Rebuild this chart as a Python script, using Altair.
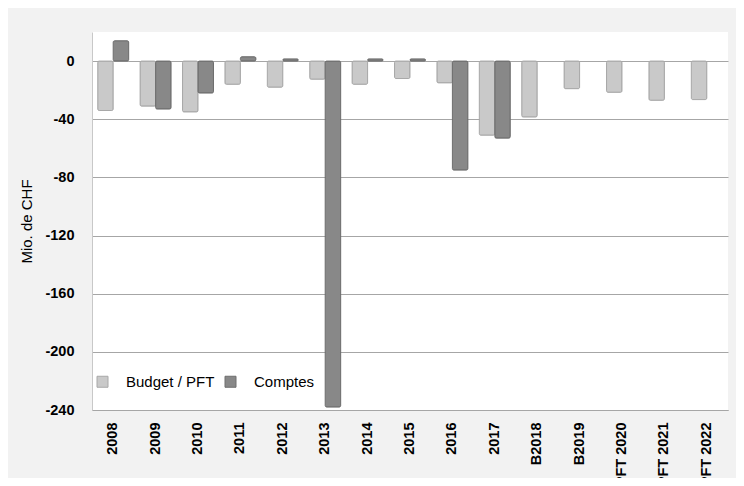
import altair as alt
import pandas as pd

categories = ["2008", "2009", "2010", "2011", "2012", "2013", "2014", "2015",
              "2016", "2017", "B2018", "B2019", "PFT 2020", "PFT 2021", "PFT 2022"]
budget = [-34, -31, -35, -16, -18, -12.5, -16, -12, -15, -51, -38.5, -19, -21.5, -27, -26.5]
comptes = [14, -33, -22, 3, 1.5, -238, 1.5, 1.5, -75, -53]
series = ["Budget / PFT", "Comptes"]
y_ticks = [0, -40, -80, -120, -160, -200, -240]

rows = []
for c, v in zip(categories, budget):
    rows.append({"cat": c, "serie": series[0], "val": v})
for c, v in zip(categories, comptes):
    rows.append({"cat": c, "serie": series[1], "val": v})
df = pd.DataFrame(rows)

FONT = "Liberation Sans"

legend_cfg = dict(title=None, orient="none", legendX=3, legendY=342,
                  direction="horizontal", symbolType="square",
                  symbolSize=121, symbolStrokeWidth=1,
                  labelFont=FONT, labelFontSize=15, labelColor="#000000",
                  labelOffset=16, columnPadding=8, padding=0)

chart = alt.Chart(df).mark_bar(strokeWidth=1, cornerRadius=1.5).encode(
    x=alt.X("cat:N", sort=categories, title=None,
            scale=alt.Scale(paddingInner=0.27, paddingOuter=0.135),
            axis=alt.Axis(labelAngle=270, labelAlign="right", labelBaseline="middle",
                          labelPadding=12, ticks=False, labelFontSize=14.5,
                          labelFontWeight="bold", labelColor="#000000", labelFont=FONT,
                          domainColor="#a6a6a6", grid=False, labelOverlap=False)),
    xOffset=alt.XOffset("serie:N", sort=series),
    y=alt.Y("val:Q", title="Mio. de CHF",
            scale=alt.Scale(domain=[-240, 20], nice=False, zero=False),
            axis=alt.Axis(values=y_ticks, ticks=False, labelPadding=18, labelFontSize=14.5,
                          labelExpr="'' + datum.value",
                          labelFontWeight="bold", labelColor="#000000", labelFont=FONT,
                          gridColor="#a6a6a6", domainColor="#c8c8c8",
                          titleFont=FONT, titleFontSize=15, titleFontWeight="normal",
                          titleColor="#000000", titleAngle=270, titleX=-66, titleY=189,
                          titleAlign="center", titleBaseline="middle")),
    color=alt.Color("serie:N", sort=series,
                    scale=alt.Scale(domain=series, range=["#c9c9c9", "#888888"]),
                    legend=alt.Legend(**legend_cfg)),
    stroke=alt.Stroke("serie:N", sort=series,
                      scale=alt.Scale(domain=series, range=["#a8a8a8", "#6e6e6e"]),
                      legend=alt.Legend(**legend_cfg)),
).properties(
    width=636, height=378,
    autosize=alt.AutoSizeParams(type="none"),
    padding={"left": 84, "top": 24, "right": 8, "bottom": 68},
    background="#f2f2f2",
).configure_view(fill="#ffffff", stroke=None)

chart.save("out.html", embed_options={"renderer": "svg", "actions": False})
